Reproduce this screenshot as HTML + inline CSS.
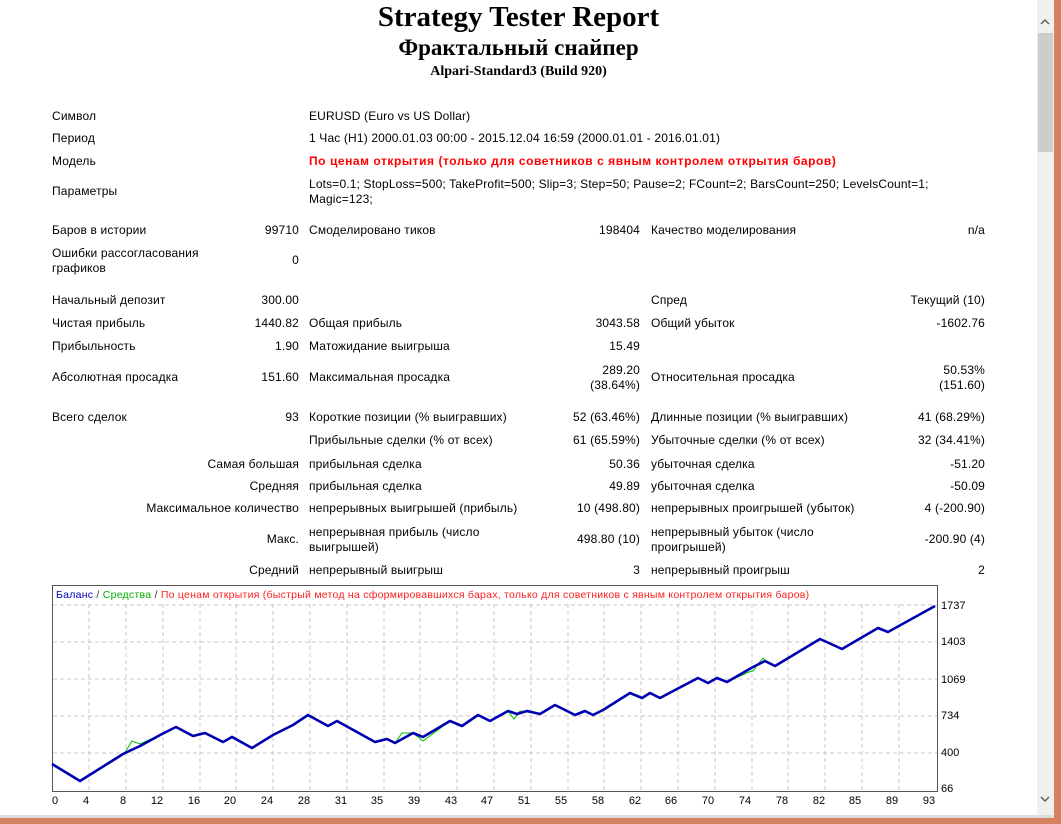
<!DOCTYPE html>
<html><head><meta charset="utf-8"><style>
body{margin:0;width:1061px;height:824px;background:#fff;position:relative;overflow:hidden;font-family:"Liberation Sans","DejaVu Sans",sans-serif;font-size:12px;color:#000}
div.t{position:absolute;line-height:15px;white-space:nowrap;letter-spacing:0.15px}
.h{position:absolute;left:0;width:1037px;text-align:center;font-family:"Liberation Serif",serif;font-weight:bold;white-space:nowrap}
div.red{color:#f00;font-weight:bold;letter-spacing:0.55px}
</style></head><body>
<div class="h" style="top:0;font-size:29px;line-height:34px">Strategy Tester Report</div>
<div class="h" style="top:35px;font-size:23px;line-height:26px">Фрактальный снайпер</div>
<div class="h" style="top:63px;font-size:14px;line-height:18px">Alpari-Standard3 (Build 920)</div>

<div class="t" style="left:52px;top:109px">Символ</div>
<div class="t" style="left:309px;top:109px">EURUSD (Euro vs US Dollar)</div>
<div class="t" style="left:52px;top:131px">Период</div>
<div class="t" style="left:309px;top:131px">1 Час (H1) 2000.01.03 00:00 - 2015.12.04 16:59 (2000.01.01 - 2016.01.01)</div>
<div class="t" style="left:52px;top:154px">Модель</div>
<div class="t red" style="left:309px;top:154px">По ценам открытия (только для советников с явным контролем открытия баров)</div>
<div class="t" style="left:52px;top:184px">Параметры</div>
<div class="t" style="left:309px;top:177px">Lots=0.1; StopLoss=500; TakeProfit=500; Slip=3; Step=50; Pause=2; FCount=2; BarsCount=250; LevelsCount=1;<br>Magic=123;</div>

<div class="t" style="left:52px;top:223px">Баров в истории</div>
<div class="t" style="right:762px;top:223px">99710</div>
<div class="t" style="left:309px;top:223px">Смоделировано тиков</div>
<div class="t" style="right:421px;top:223px">198404</div>
<div class="t" style="left:651px;top:223px">Качество моделирования</div>
<div class="t" style="right:76px;top:223px">n/a</div>
<div class="t" style="left:52px;top:246px">Ошибки рассогласования<br>графиков</div>
<div class="t" style="right:762px;top:253px">0</div>

<div class="t" style="left:52px;top:293px">Начальный депозит</div>
<div class="t" style="right:762px;top:293px">300.00</div>
<div class="t" style="left:651px;top:293px">Спред</div>
<div class="t" style="right:76px;top:293px">Текущий (10)</div>
<div class="t" style="left:52px;top:316px">Чистая прибыль</div>
<div class="t" style="right:762px;top:316px">1440.82</div>
<div class="t" style="left:309px;top:316px">Общая прибыль</div>
<div class="t" style="right:421px;top:316px">3043.58</div>
<div class="t" style="left:651px;top:316px">Общий убыток</div>
<div class="t" style="right:76px;top:316px">-1602.76</div>
<div class="t" style="left:52px;top:339px">Прибыльность</div>
<div class="t" style="right:762px;top:339px">1.90</div>
<div class="t" style="left:309px;top:339px">Матожидание выигрыша</div>
<div class="t" style="right:421px;top:339px">15.49</div>
<div class="t" style="left:52px;top:370px">Абсолютная просадка</div>
<div class="t" style="right:762px;top:370px">151.60</div>
<div class="t" style="left:309px;top:370px">Максимальная просадка</div>
<div class="t" style="right:421px;top:363px;text-align:right">289.20<br>(38.64%)</div>
<div class="t" style="left:651px;top:370px">Относительная просадка</div>
<div class="t" style="right:76px;top:363px;text-align:right">50.53%<br>(151.60)</div>

<div class="t" style="left:52px;top:410px">Всего сделок</div>
<div class="t" style="right:762px;top:410px">93</div>
<div class="t" style="left:309px;top:410px">Короткие позиции (% выигравших)</div>
<div class="t" style="right:421px;top:410px">52 (63.46%)</div>
<div class="t" style="left:651px;top:410px">Длинные позиции (% выигравших)</div>
<div class="t" style="right:76px;top:410px">41 (68.29%)</div>
<div class="t" style="left:309px;top:433px">Прибыльные сделки (% от всех)</div>
<div class="t" style="right:421px;top:433px">61 (65.59%)</div>
<div class="t" style="left:651px;top:433px">Убыточные сделки (% от всех)</div>
<div class="t" style="right:76px;top:433px">32 (34.41%)</div>
<div class="t" style="right:762px;top:457px">Самая большая</div>
<div class="t" style="left:309px;top:457px">прибыльная сделка</div>
<div class="t" style="right:421px;top:457px">50.36</div>
<div class="t" style="left:651px;top:457px">убыточная сделка</div>
<div class="t" style="right:76px;top:457px">-51.20</div>
<div class="t" style="right:762px;top:479px">Средняя</div>
<div class="t" style="left:309px;top:479px">прибыльная сделка</div>
<div class="t" style="right:421px;top:479px">49.89</div>
<div class="t" style="left:651px;top:479px">убыточная сделка</div>
<div class="t" style="right:76px;top:479px">-50.09</div>
<div class="t" style="right:762px;top:501px">Максимальное количество</div>
<div class="t" style="left:309px;top:501px">непрерывных выигрышей (прибыль)</div>
<div class="t" style="right:421px;top:501px">10 (498.80)</div>
<div class="t" style="left:651px;top:501px">непрерывных проигрышей (убыток)</div>
<div class="t" style="right:76px;top:501px">4 (-200.90)</div>
<div class="t" style="right:762px;top:532px">Макс.</div>
<div class="t" style="left:309px;top:525px">непрерывная прибыль (число<br>выигрышей)</div>
<div class="t" style="right:421px;top:532px">498.80 (10)</div>
<div class="t" style="left:651px;top:525px">непрерывный убыток (число<br>проигрышей)</div>
<div class="t" style="right:76px;top:532px">-200.90 (4)</div>
<div class="t" style="right:762px;top:563px">Средний</div>
<div class="t" style="left:309px;top:563px">непрерывный выигрыш</div>
<div class="t" style="right:421px;top:563px">3</div>
<div class="t" style="left:651px;top:563px">непрерывный проигрыш</div>
<div class="t" style="right:76px;top:563px">2</div>

<svg style="position:absolute;left:0;top:0" width="1061" height="824" font-family="Liberation Sans, DejaVu Sans, sans-serif">
<rect x="52.5" y="585.5" width="885" height="206" fill="#fff" stroke="#555"/>
<g stroke="#c8c8c8" stroke-dasharray="4,3">
<line x1="53" x2="937" y1="605" y2="605"/><line x1="53" x2="937" y1="642" y2="642"/><line x1="53" x2="937" y1="679" y2="679"/><line x1="53" x2="937" y1="716" y2="716"/><line x1="53" x2="937" y1="753" y2="753"/>
<line x1="89" x2="89" y1="604" y2="791"/><line x1="126" x2="126" y1="604" y2="791"/><line x1="163" x2="163" y1="604" y2="791"/><line x1="200" x2="200" y1="604" y2="791"/><line x1="236" x2="236" y1="604" y2="791"/><line x1="273" x2="273" y1="604" y2="791"/><line x1="310" x2="310" y1="604" y2="791"/><line x1="347" x2="347" y1="604" y2="791"/><line x1="384" x2="384" y1="604" y2="791"/><line x1="420" x2="420" y1="604" y2="791"/><line x1="457" x2="457" y1="604" y2="791"/><line x1="494" x2="494" y1="604" y2="791"/><line x1="531" x2="531" y1="604" y2="791"/><line x1="568" x2="568" y1="604" y2="791"/><line x1="604" x2="604" y1="604" y2="791"/><line x1="641" x2="641" y1="604" y2="791"/><line x1="678" x2="678" y1="604" y2="791"/><line x1="715" x2="715" y1="604" y2="791"/><line x1="752" x2="752" y1="604" y2="791"/><line x1="788" x2="788" y1="604" y2="791"/><line x1="825" x2="825" y1="604" y2="791"/><line x1="862" x2="862" y1="604" y2="791"/><line x1="899" x2="899" y1="604" y2="791"/>
</g>
<text x="56" y="598" font-size="10.5" letter-spacing="0.25"><tspan fill="#0000c0">Баланс</tspan><tspan fill="#333"> / </tspan><tspan fill="#00b000">Средства</tspan><tspan fill="#333"> / </tspan><tspan fill="#ff2020">По ценам открытия (быстрый метод на сформировавшихся барах, только для советников с явным контролем открытия баров)</tspan></text>
<polyline fill="none" stroke="#00c000" stroke-width="1" points="52,764 80,781 120,757 124,754 132,741 140,744 162,734 176,727 193,736 205,733 223,742 232,736 236,738 252,748 273,735 293,725 308,715 328,726 337,721 375,742 387,739 395,743 402,733 413,733 423,741 450,721 462,726 478,715 490,721 508,711 514,719 520,711 540,714 555,705 575,715 585,711 593,715 603,710 630,693 642,698 650,693 660,698 677,689 698,678 708,683 717,678 727,682 749,672 753,671 758,664 763,658 765,661 775,666 820,639 842,649 878,628 888,632 935,606"/>
<polyline fill="none" stroke="#0000b0" stroke-width="2.6" stroke-linejoin="round" points="52,764 80,781 123,754 140,746 162,734 176,727 193,736 205,733 223,742 232,737 252,748 273,735 293,725 308,715 328,726 337,721 375,742 387,739 395,743 413,733 423,737 450,721 462,726 478,715 490,721 508,711 517,714 527,711 540,714 555,705 575,715 585,711 593,715 603,710 630,693 642,698 650,693 660,698 677,689 698,678 708,683 717,678 727,682 753,667 765,661 775,666 820,639 842,649 878,628 888,632 935,606"/>
<g font-size="11" fill="#000">
<text x="941" y="609">1737</text><text x="941" y="645">1403</text><text x="941" y="683">1069</text><text x="941" y="719">734</text><text x="941" y="756">400</text><text x="941" y="792">66</text>
</g>
<g font-size="11" fill="#000" text-anchor="middle">
<text x="55" y="804">0</text><text x="86" y="804">4</text><text x="123" y="804">8</text><text x="157" y="804">12</text><text x="194" y="804">16</text><text x="230" y="804">20</text><text x="267" y="804">24</text><text x="304" y="804">28</text><text x="341" y="804">31</text><text x="377" y="804">35</text><text x="414" y="804">39</text><text x="451" y="804">43</text><text x="487" y="804">47</text><text x="524" y="804">51</text><text x="561" y="804">55</text><text x="598" y="804">58</text><text x="635" y="804">62</text><text x="671" y="804">66</text><text x="708" y="804">70</text><text x="745" y="804">74</text><text x="782" y="804">78</text><text x="819" y="804">82</text><text x="855" y="804">85</text><text x="892" y="804">89</text><text x="929" y="804">93</text>
</g>
<rect x="1037" y="0" width="17" height="816" fill="#f0f0f0"/>
<rect x="1038" y="33" width="15" height="119" fill="#cdcdcd"/>
<path d="M1041 24 L1045 20 L1049 24" fill="none" stroke="#606060" stroke-width="1.5"/>
<path d="M1041 797 L1045 801 L1049 797" fill="none" stroke="#606060" stroke-width="1.5"/>
<rect x="0" y="815" width="1054" height="3" fill="#dcdcdc"/>
<rect x="1054" y="0" width="7" height="824" fill="#d4825f"/>
<rect x="0" y="818" width="1061" height="6" fill="#d4825f"/>
</svg>
</body></html>
